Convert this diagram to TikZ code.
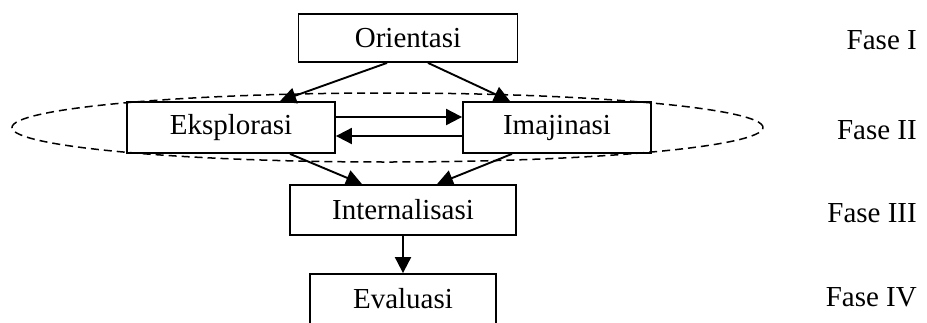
\documentclass[tikz,border=0pt]{standalone}
\usepackage{fontspec}
\setmainfont{Liberation Serif}
\usetikzlibrary{arrows.meta,calc,shapes.geometric}
\begin{document}
\begin{tikzpicture}[x=1pt,y=-1pt,
  box/.style={draw,line width=1.8pt,rectangle,inner sep=0pt,font=\fontsize{29}{34}\selectfont},
  lab/.style={anchor=east,inner sep=0pt,font=\fontsize{29}{34}\selectfont},
  arr/.style={line width=1.9pt,-{Triangle[length=16pt,width=16pt]}},
  grp/.style={draw,line width=1.5pt,dash pattern=on 8pt off 5pt}]
\useasboundingbox (0,0) rectangle (927,322);
\clip (0,0) rectangle (927,322);
\fill[white] (0,0) rectangle (927,322);
\node[box,minimum width=219pt,minimum height=48pt] (o) at (408,38) {Orientasi};
\node[box,minimum width=208pt,minimum height=51pt] (e) at (231,127.5) {Eksplorasi};
\node[box,minimum width=188pt,minimum height=51pt] (im) at (557,127.5) {Imajinasi};
\node[box,minimum width=226pt,minimum height=50pt] (in) at (403,210) {Internalisasi};
\node[box,minimum width=186pt,minimum height=50pt] (ev) at (403,299) {Evaluasi};
\node[grp,ellipse,minimum width=751pt,minimum height=69pt,inner sep=0pt] (g) at (387.5,127.5) {};
\node[lab] (f1) at (917,40) {Fase I};
\node[lab] (f2) at (917,130) {Fase II};
\node[lab] (f3) at (917,213) {Fase III};
\node[lab] (f4) at (917,297) {Fase IV};
\draw[arr] ([xshift=-21pt]o.south) -- ([xshift=49pt]e.north);
\draw[arr] ([xshift=20pt]o.south) -- ([xshift=-47pt]im.north);
\draw[arr] ([yshift=10.5pt]e.east) -- ([yshift=10.5pt]im.west);
\draw[arr] ([yshift=-8.5pt]im.west) -- ([yshift=-8.5pt]e.east);
\draw[arr] ([xshift=59pt]e.south) -- ([xshift=-41pt]in.north);
\draw[arr] ([xshift=-45pt]im.south) -- ([xshift=34pt]in.north);
\draw[arr] (in.south) -- (ev.north);
\end{tikzpicture}
\end{document}
